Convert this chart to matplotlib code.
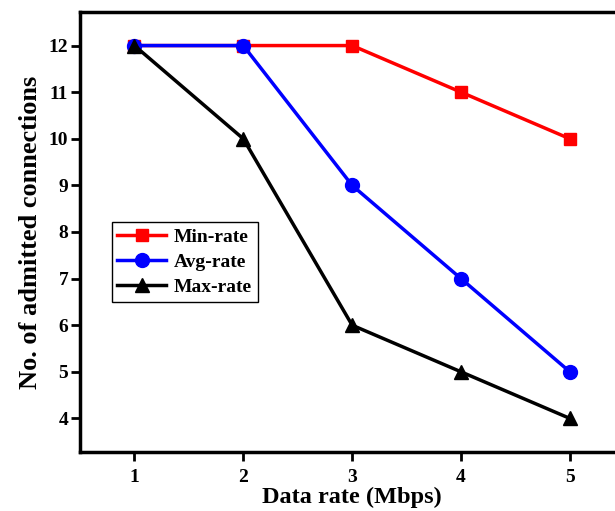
import matplotlib
matplotlib.use("Agg")
import matplotlib.pyplot as plt

plt.rcParams["font.family"] = ["Liberation Serif", "DejaVu Serif"]
plt.rcParams["font.weight"] = "bold"

rate = [1, 2, 3, 4, 5]  # data rate (Mbps)
min_rate = [12, 12, 12, 11, 10]
avg_rate = [12, 12, 9, 7, 5]
max_rate = [12, 10, 6, 5, 4]

fig = plt.figure(figsize=(6.15, 5.11), dpi=100)
ax = fig.add_axes([0.1301, 0.1155, 0.885, 0.861])

ax.plot(rate, min_rate, color="red", lw=2.5, marker="s", ms=9, label="Min-rate")
ax.plot(rate, avg_rate, color="blue", lw=2.5, marker="o", ms=10, label="Avg-rate")
ax.plot(rate, max_rate, color="black", lw=2.5, marker="^", ms=10, label="Max-rate")

ax.set_xlim(0.5, 5.5)
ax.set_ylim(3.28, 12.72)
ax.set_xticks(rate)
ax.set_yticks(range(4, 13))
for s in ax.spines.values():
    s.set_linewidth(2.5)
ax.tick_params(width=2, length=6.5, labelsize=14)
ax.tick_params(axis="x", pad=6)
ax.tick_params(axis="y", pad=2)

ax.set_xlabel("Data rate (Mbps)", fontsize=17.5, fontweight="bold", labelpad=0)
ax.set_ylabel("No. of admitted connections", fontsize=19, fontweight="bold", labelpad=5)

leg = ax.legend(loc="upper left", bbox_to_anchor=(0.058, 0.522), fontsize=14,
                fancybox=False, edgecolor="black", framealpha=1,
                handlelength=2.5, borderpad=0.3, labelspacing=0.38,
                handletextpad=0.4, borderaxespad=0)
leg.get_frame().set_linewidth(1)

fig.savefig("out.png", dpi=100)
